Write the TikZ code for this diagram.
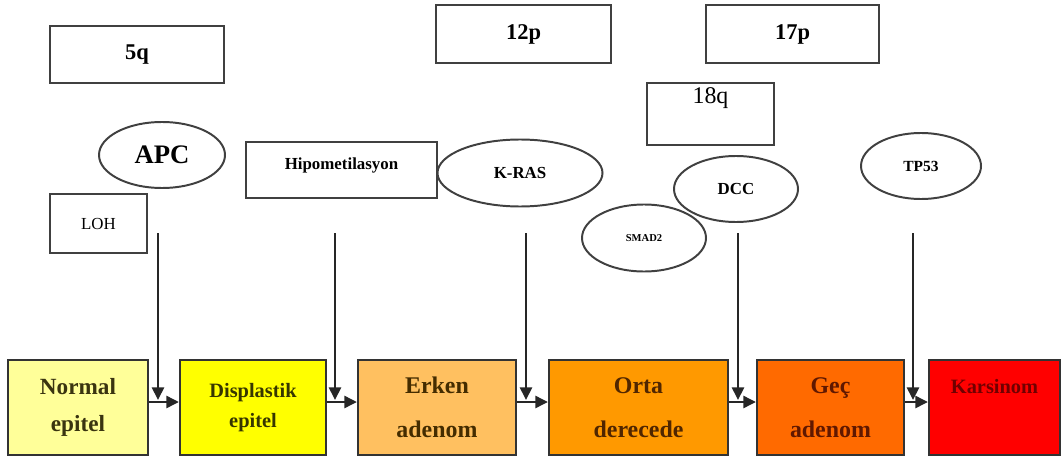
\documentclass[tikz,border=0pt]{standalone}
\usepackage{fontspec}
\setmainfont{Liberation Serif}
\usetikzlibrary{shapes.geometric,arrows.meta}

\definecolor{cNormal}{HTML}{FFFF99}
\definecolor{cDisp}{HTML}{FFFF00}
\definecolor{cErken}{HTML}{FFC060}
\definecolor{cOrta}{HTML}{FF9900}
\definecolor{cGec}{HTML}{FF6A00}
\definecolor{cKars}{HTML}{FF0000}
\definecolor{tNormal}{HTML}{3A3410}
\definecolor{tDisp}{HTML}{363600}
\definecolor{tErken}{HTML}{442C00}
\definecolor{tOrta}{HTML}{502600}
\definecolor{tGec}{HTML}{601800}
\definecolor{tKars}{HTML}{700000}

\begin{document}
\begin{tikzpicture}[x=0.025cm, y=-0.025cm,
  wh/.style 2 args={minimum width=#1*0.025cm, minimum height=#2*0.025cm},
  chrom/.style={draw=black!75, line width=1.4pt, rectangle, inner sep=0pt},
  gene/.style={draw=black!75, line width=1.4pt, ellipse, inner sep=0pt},
  stage/.style={draw=black!80, line width=1.5pt, rectangle, inner sep=0pt,
                minimum height=95*0.025cm, align=center},
  link/.style={draw=black!85, line width=2pt, -{Triangle[length=9pt,width=8.5pt]}},
  big/.style={font=\fontsize{16}{18}\selectfont\bfseries},
  mid/.style={font=\fontsize{12}{14}\selectfont\bfseries},
]
\useasboundingbox (0,0) rectangle (1063,459);

% chromosome arms
\node[chrom, wh={174}{57}, big] (q5)  at (137,54.5) {5q};
\node[chrom, wh={175}{58}, big] (p12) at (523.5,34) {12p};
\node[chrom, wh={173}{58}, big] (p17) at (792.5,34) {17p};
\node[chrom, wh={127}{62},
      label={[anchor=north, inner sep=0pt, yshift=-4pt,
              font=\fontsize{17}{19}\selectfont]north:18q}] (q18) at (710.5,114) {};
\node[chrom, wh={97}{59}, font=\fontsize{12}{14}\selectfont, yshift=2pt] (loh) at (98.5,226.5) {LOH};
\node[chrom, wh={191}{56}, mid, text depth=9pt] (hipo) at (341.5,170) {Hipometilasyon};

% genes
\node[gene, wh={126}{66}, font=\fontsize{19}{21}\selectfont\bfseries] (apc) at (162,155) {APC};
\node[gene, wh={165}{67}, mid] (kras) at (520,173) {K-RAS};
\node[gene, wh={124}{67}, font=\fontsize{7.5}{9}\selectfont\bfseries] (smad) at (644,238) {SMAD2};
\node[gene, wh={124}{66}, mid] (dcc) at (736,189) {DCC};
\node[gene, wh={120}{66}, font=\fontsize{11}{13}\selectfont\bfseries] (tp53) at (921,166) {TP53};

% progression stages
\node[stage, fill=cNormal, text=tNormal, wh={140}{95},
      font=\fontsize{16.5}{26}\selectfont\bfseries] (normal) at (78,407.5) {Normal\\epitel};
\node[stage, fill=cDisp, text=tDisp, wh={146}{95},
      font=\fontsize{14.5}{21}\selectfont\bfseries] (disp) at (253,407.5) {Displastik\\epitel};
\node[stage, fill=cErken, text=tErken, wh={158}{95},
      font=\fontsize{17}{31}\selectfont\bfseries] (erken) at (437,407.5) {Erken\\adenom};
\node[stage, fill=cOrta, text=tOrta, wh={179}{95},
      font=\fontsize{17}{31}\selectfont\bfseries] (orta) at (638.5,407.5) {Orta\\derecede};
\node[stage, fill=cGec, text=tGec, wh={147}{95},
      font=\fontsize{17}{31}\selectfont\bfseries] (gec) at (830.5,407.5) {Geç\\adenom};
\node[stage, fill=cKars, wh={131}{95},
      label={[anchor=north, inner sep=0pt, yshift=-14pt, text=tKars,
              font=\fontsize{14.5}{17}\selectfont\bfseries]north:Karsinom}] (kars) at (994.5,407.5) {};

% vertical event arrows
\foreach \i/\x in {1/158, 2/335, 3/526, 4/738, 5/913} {
  \coordinate (top\i) at (\x,233);
  \coordinate (hit\i) at (\x,400);
}
\foreach \i in {1,...,5} \draw[link] (top\i) -- (hit\i);

% horizontal progression arrows
\draw[link] (normal.east |- 0,402) -- (disp.west |- 0,402);
\draw[link] (disp.east |- 0,402) -- (erken.west |- 0,402);
\draw[link] (erken.east |- 0,402) -- (orta.west |- 0,402);
\draw[link] (orta.east |- 0,402) -- (gec.west |- 0,402);
\draw[link] (gec.east |- 0,402) -- (kars.west |- 0,402);
\end{tikzpicture}
\end{document}
